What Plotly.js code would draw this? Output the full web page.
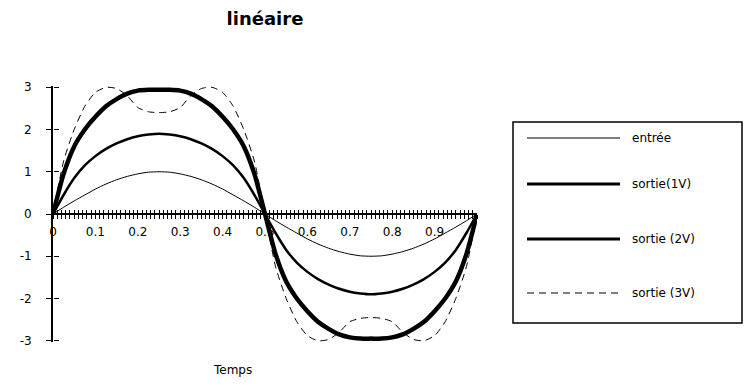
<!DOCTYPE html>
<html>
<head>
<meta charset="utf-8">
<script src="https://cdn.plot.ly/plotly-3.0.1.min.js"></script>
<style>html,body{margin:0;padding:0;background:#fff;}#chart{width:744px;height:390px;}</style>
</head>
<body>
<div id="chart"></div>
<script>
// ---- data ----
var temps = [0,0.025,0.05,0.075,0.1,0.125,0.15,0.175,0.2,0.225,0.25,0.275,0.3,0.325,0.35,0.375,0.4,0.425,0.45,0.475,0.5,
             0.525,0.55,0.575,0.6,0.625,0.65,0.675,0.7,0.725,0.75,0.775,0.8,0.825,0.85,0.875,0.9,0.925,0.95,0.975,1.0];
var entree = [0,0.16,0.31,0.45,0.59,0.71,0.81,0.89,0.95,0.99,1.00,0.99,0.95,0.89,0.81,0.71,0.59,0.45,0.31,0.16,0,
              -0.16,-0.31,-0.45,-0.59,-0.71,-0.81,-0.89,-0.95,-0.99,-1.00,-0.99,-0.95,-0.89,-0.81,-0.71,-0.59,-0.45,-0.31,-0.16,0];
var sortie1V = [0,0.45,0.85,1.15,1.37,1.54,1.67,1.77,1.84,1.88,1.90,1.88,1.84,1.77,1.67,1.54,1.37,1.15,0.85,0.45,0,
                -0.45,-0.85,-1.15,-1.37,-1.54,-1.67,-1.77,-1.84,-1.88,-1.90,-1.88,-1.84,-1.77,-1.67,-1.54,-1.37,-1.15,-0.85,-0.45,0];
var sortie2V = [0,0.95,1.6,2.0,2.3,2.55,2.72,2.85,2.92,2.94,2.94,2.94,2.92,2.85,2.72,2.55,2.3,2.0,1.6,0.95,0,
                -0.95,-1.6,-2.0,-2.3,-2.55,-2.72,-2.85,-2.92,-2.95,-2.95,-2.95,-2.92,-2.85,-2.72,-2.55,-2.3,-2.0,-1.6,-0.95,0];
var sortie3V = [0,1.25,2.0,2.55,2.88,3.0,2.97,2.8,2.52,2.42,2.4,2.42,2.52,2.8,2.97,3.0,2.88,2.55,2.0,1.25,0,
                -1.25,-2.0,-2.55,-2.88,-3.0,-2.97,-2.8,-2.55,-2.47,-2.45,-2.47,-2.55,-2.8,-2.97,-3.0,-2.88,-2.55,-2.0,-1.25,0];
var seriesNames = ["entrée","sortie(1V)","sortie (2V)","sortie (3V)"];
var xTickVals = [0,0.1,0.2,0.3,0.4,0.5,0.6,0.7,0.8,0.9];
var xTickText = ["0","0.1","0.2","0.3","0.4","0.5","0.6","0.7","0.8","0.9"];
var yTickVals = [-3,-2,-1,0,1,2,3];
var yTickText = ["-3","-2","-1","0","1","2","3"];
var titleText = "linéaire";
var xTitle = "Temps";

// ---- styles ----
var FONT = "DejaVu Sans, Liberation Sans, Arial, sans-serif";
var styles = [
  {width:1, dash:"solid"},
  {width:2.5, dash:"solid"},
  {width:4.5, dash:"solid"},
  {width:1, dash:"7px,5px"}
];
var legendStyles = [
  {width:1, dash:"solid"},
  {width:3, dash:"solid"},
  {width:3, dash:"solid"},
  {width:1, dash:"7px,5px"}
];
var seriesData = [entree, sortie1V, sortie2V, sortie3V];

var L = 53, R = 477, T = 86, B = 342, W = 744, H = 390;
function px(x){ return (x - L) / (R - L); }
function py(y){ return (B - y) / (B - T); }

var traces = seriesData.map(function(d, i){
  return {x: temps, y: d, type:"scatter", mode:"lines", name: seriesNames[i],
          line:{color:"#000", width: styles[i].width, dash: styles[i].dash, shape:"spline", smoothing:0.6},
          showlegend:false, hoverinfo:"x+y+name"};
});
// helper trace for the secondary axes (cross ticks)
traces.push({x:[], y:[], xaxis:"x2", yaxis:"y2", type:"scatter", mode:"lines", showlegend:false, hoverinfo:"skip"});

var yr = [-3.03, 3.03];
var axisCommon = {showgrid:false, zeroline:false, showline:true, linecolor:"#000", linewidth:2,
                  tickcolor:"#000", tickwidth:1, fixedrange:true};

var layout = {
  width: W, height: H,
  margin: {l: L, r: W - R, t: T, b: H - B, pad: 0},
  paper_bgcolor:"#fff", plot_bgcolor:"#fff",
  font: {family: FONT, size: 12, color:"#000"},
  title: {text: "<b>" + titleText + "</b>", x: 0.5, xref:"paper", xanchor:"center",
          y: 1 - 19/H, yref:"container", yanchor:"middle", font:{family: FONT, size: 18, color:"#000"}},
  xaxis: Object.assign({}, axisCommon, {
    range:[0,1], anchor:"free", position:0.5,
    tickmode:"array", tickvals: xTickVals, ticktext: xTickText,
    ticks:"outside", ticklen:4, ticklabelstandoff:3,
    minor:{tickmode:"linear", tick0:0, dtick:0.01, ticks:"outside", ticklen:4, tickcolor:"#000", tickwidth:1},
    tickfont:{family: FONT, size: 12, color:"#000"}
  }),
  xaxis2: Object.assign({}, axisCommon, {
    range:[0,1], overlaying:"x", anchor:"free", position:0.5, showline:false,
    tickmode:"array", tickvals: xTickVals, showticklabels:false,
    ticks:"inside", ticklen:4,
    minor:{tickmode:"linear", tick0:0, dtick:0.01, ticks:"inside", ticklen:4, tickcolor:"#000", tickwidth:1}
  }),
  yaxis: Object.assign({}, axisCommon, {
    range: yr, tickmode:"array", tickvals: yTickVals, ticktext: yTickText,
    ticks:"outside", ticklen:5, ticklabelstandoff:12,
    tickfont:{family: FONT, size: 12, color:"#000"}
  }),
  yaxis2: Object.assign({}, axisCommon, {
    range: yr, overlaying:"y", anchor:"free", position:0, showline:false,
    tickmode:"array", tickvals: yTickVals, showticklabels:false,
    ticks:"inside", ticklen:5
  }),
  shapes: [],
  annotations: [],
  showlegend:false
};

// x-axis title (placed below the plot, as in the reference)
layout.annotations.push({xref:"paper", yref:"paper", x:px(232), y:py(370), xanchor:"center", yanchor:"middle",
                         text: xTitle, showarrow:false, font:{family: FONT, size: 12, color:"#000"}});

// custom legend box
layout.shapes.push({type:"rect", xref:"paper", yref:"paper", x0:px(513), x1:px(742), y0:py(323), y1:py(122),
                    line:{color:"#000", width:1.5}, fillcolor:"rgba(0,0,0,0)"});
var legY = [138, 184, 239, 293];
seriesNames.forEach(function(n, i){
  layout.shapes.push({type:"line", xref:"paper", yref:"paper", x0:px(527), x1:px(620), y0:py(legY[i]), y1:py(legY[i]),
                      line:{color:"#000", width: legendStyles[i].width, dash: legendStyles[i].dash}});
  layout.annotations.push({xref:"paper", yref:"paper", x:px(630), y:py(legY[i]), xanchor:"left", yanchor:"middle",
                           text:n, showarrow:false, font:{family: FONT, size: 12, color:"#000"}});
});

Plotly.newPlot("chart", traces, layout, {displayModeBar:false, staticPlot:true});
</script>
</body>
</html>
